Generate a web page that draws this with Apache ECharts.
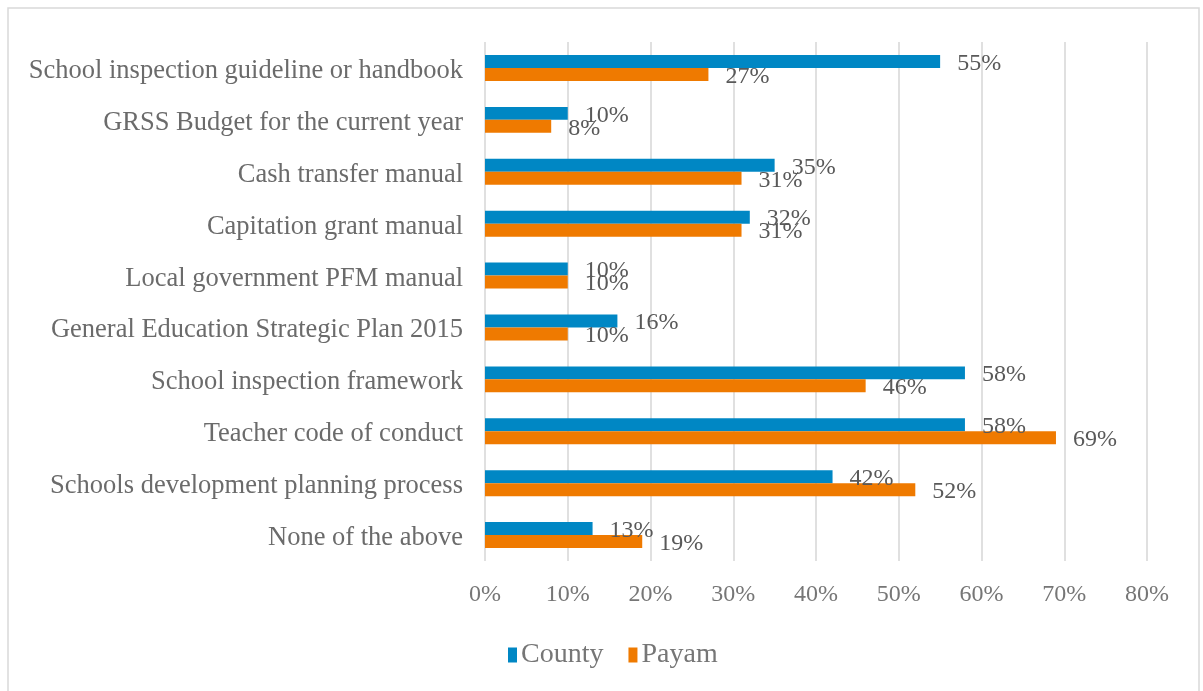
<!DOCTYPE html>
<html>
<head>
<meta charset="utf-8">
<script src="https://cdn.jsdelivr.net/npm/echarts@6/dist/echarts.min.js"></script>
<style>
  html, body { margin: 0; padding: 0; background: #ffffff; }
  #chart { width: 1203px; height: 691px; }
</style>
</head>
<body>
<div id="chart"></div>
<script>
// Documents available, listed top to bottom
const categories = [
  'School inspection guideline or handbook',
  'GRSS Budget for the current year',
  'Cash transfer manual',
  'Capitation grant manual',
  'Local government PFM manual',
  'General Education Strategic Plan 2015',
  'School inspection framework',
  'Teacher code of conduct',
  'Schools development planning process',
  'None of the above'
];

// Share of respondents (%)
const countyValues = [55, 10, 35, 32, 10, 16, 58, 58, 42, 13];
const payamValues  = [27, 8, 31, 31, 10, 10, 46, 69, 52, 19];

const xTicks = [0, 10, 20, 30, 40, 50, 60, 70, 80];

const FONT = '"Liberation Serif", "DejaVu Serif", serif';

const chart = echarts.init(document.getElementById('chart'), null, { renderer: 'canvas' });

const valueLabel = {
  show: true,
  position: 'right',
  distance: 17,
  offset: [0, 2],
  formatter: p => p.value + '%',
  fontFamily: FONT,
  fontSize: 24,
  color: '#595959'
};

chart.setOption({
  animation: false,
  backgroundColor: '#ffffff',
  graphic: [{
    type: 'rect',
    shape: { x: 8, y: 8, width: 1191, height: 700 },
    style: { fill: 'none', stroke: '#d9d9d9', lineWidth: 1.5 },
    silent: true
  }],
  grid: { left: 485, right: 56, top: 42, bottom: 130 },
  legend: {
    data: ['County', 'Payam'],
    left: 503,
    top: 636,
    itemWidth: 9,
    itemHeight: 15,
    itemGap: 25,
    icon: 'rect',
    textStyle: { fontFamily: FONT, fontSize: 28, color: '#767676', padding: [0, 0, 0, -1] }
  },
  xAxis: {
    type: 'value',
    min: xTicks[0],
    max: xTicks[xTicks.length - 1],
    interval: 10,
    axisLine: { show: false },
    axisTick: { show: false },
    axisLabel: {
      formatter: v => v + '%',
      fontFamily: FONT,
      fontSize: 24,
      color: '#767676',
      margin: 22
    },
    splitLine: { show: true, lineStyle: { color: '#e0e0e0', width: 2 } }
  },
  yAxis: {
    type: 'category',
    data: categories,
    inverse: true,
    axisLine: { show: false },
    axisTick: { show: false },
    axisLabel: {
      fontFamily: FONT,
      fontSize: 26.5,
      color: '#6b6b6b',
      margin: 22,
      verticalAlign: 'top',
      lineHeight: 6
    },
    splitLine: { show: false }
  },
  series: [
    {
      name: 'County',
      type: 'bar',
      data: countyValues,
      barGap: '0%',
      barCategoryGap: '50%',
      itemStyle: { color: '#0087c4' },
      label: valueLabel
    },
    {
      name: 'Payam',
      type: 'bar',
      data: payamValues,
      barGap: '0%',
      barCategoryGap: '50%',
      itemStyle: { color: '#ef7a00' },
      label: valueLabel
    }
  ]
});
</script>
</body>
</html>
